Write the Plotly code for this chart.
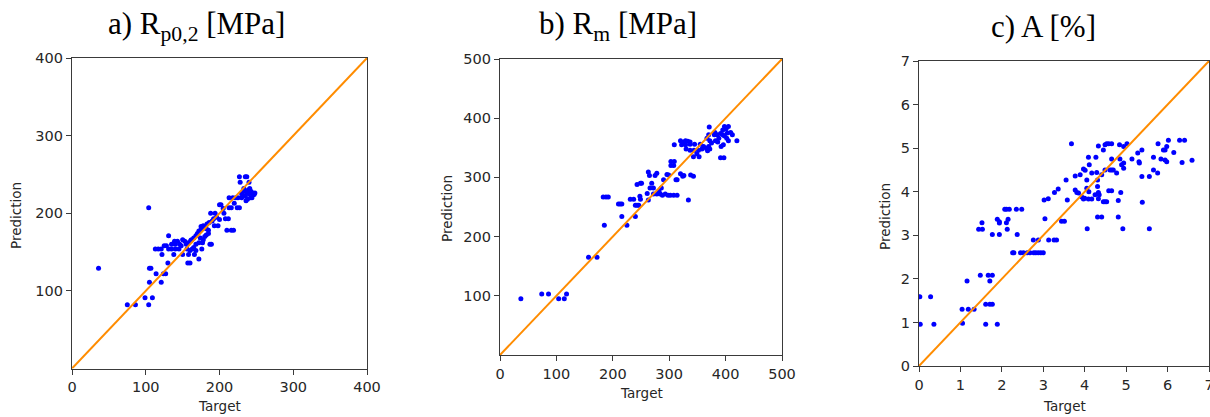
import plotly.graph_objects as go

# ---------------- data ----------------
# Panel a) Rp0,2 [MPa]
a_target = [36, 104, 75, 86, 104, 99, 109, 105, 121, 105, 107, 114, 124, 127,
            130, 157, 160, 122, 138, 150, 158, 166, 172,
            113, 117, 121, 125, 128, 131, 135, 140, 145, 156, 160, 163, 168, 176,
            131, 135, 140, 143, 146, 150, 153, 139, 148, 155, 158,
            162, 165, 168, 170, 172, 175, 168, 172, 177, 180, 182, 185, 178, 174, 165, 161,
            180, 183, 186, 190, 192, 196, 189, 187, 193, 198, 200, 185, 182, 178, 175,
            188, 194, 200, 202, 205, 208, 212, 206, 210, 216, 219, 213, 216, 224, 227, 220, 213, 218, 222, 225,
            227, 235, 237, 228, 240,
            230, 233, 235, 237, 239, 241, 243, 245, 247, 238, 242, 236, 244, 230, 233, 240, 248]
a_pred = [129, 207, 82, 82, 82, 91, 91, 111, 111, 129, 129, 122, 122, 122,
          136, 136, 136, 147, 147, 147, 147, 147, 141,
          154, 154, 154, 158, 158, 154, 154, 154, 154, 154, 152, 154, 152, 154,
          171, 160, 160, 164, 160, 166, 164, 164, 158, 160, 162,
          166, 168, 171, 174, 177, 179, 160, 162, 162, 170, 172, 174, 166, 168, 156, 165,
          182, 186, 188, 190, 193, 195, 160, 160, 184, 184, 192, 178, 180, 184, 183,
          200, 200, 211, 211, 206, 193, 193, 200, 178, 178, 178, 207, 207, 207, 207, 213, 220, 220, 220, 220,
          247, 247, 247, 240, 240,
          225, 228, 222, 226, 230, 232, 228, 225, 224, 218, 220, 216, 220, 220, 232, 225, 226]

# Panel b) Rm [MPa]
b_target = [37, 74, 86, 104, 114, 118,
            157, 172, 185, 183, 192, 188,
            210, 216, 213, 216, 225, 240,
            231, 237, 240, 243, 246, 243, 249, 251,
            248, 249, 263, 265, 278, 275, 269, 266, 272, 261, 263,
            272, 278, 284, 288, 293, 298, 302, 308, 314, 282, 286, 290, 296, 299,
            303, 308, 303, 309, 309, 312, 314, 320, 324, 326, 334, 338, 343,
            320, 326, 329, 333, 337, 322, 329, 337, 345, 355,
            330, 337, 344, 352, 343, 353, 349, 358, 361, 366, 370,
            367, 372, 375, 370, 368, 372, 380, 382,
            371, 381, 385, 391, 395, 398, 405, 401, 395, 392, 396, 402, 409, 412, 405,
            391, 397, 420, 388, 398, 403, 386]
b_pred = [95, 103, 103, 95, 95, 103,
          165, 165, 219, 267, 267, 267,
          255, 255, 255, 234, 219, 234,
          263, 263, 253, 253, 253, 288, 290, 290,
          268, 263, 309, 303, 307, 303, 290, 282, 282, 273, 262,
          272, 272, 272, 270, 272, 270, 270, 270, 270, 276, 282, 296, 305, 304,
          320, 320, 327, 327, 355, 296, 296, 306, 302, 303, 262, 304, 302,
          362, 360, 362, 361, 360, 355, 355, 356, 356, 356,
          348, 346, 346, 346, 335, 335, 340, 348, 352, 349, 352,
          366, 362, 358, 372, 345, 348, 372, 362,
          385, 376, 372, 374, 380, 386, 386, 382, 372, 352, 355, 366, 376, 372, 362,
          333, 333, 362, 366, 370, 375, 360]

# Panel c) A [%]
c_target = [0.02, 0.03, 0.28, 0.36, 1.04, 1.19, 1.33, 1.05, 1.16, 1.48, 1.67, 1.77, 1.71,
            1.61, 1.71, 1.77, 1.61, 1.89, 1.44, 1.53, 1.52, 1.77, 1.89, 1.94, 1.94, 1.94,
            2.11, 2.15, 2.13, 2.37, 2.07, 2.11, 2.18, 2.35, 2.48,
            2.26, 2.29, 2.45, 2.52, 2.61, 2.68, 2.76, 2.88, 2.77, 2.82, 2.88, 2.94, 3.00,
            3.02, 3.12, 3.04, 3.13, 3.26, 3.32, 3.27, 3.36, 3.44, 3.51, 3.55, 3.58, 3.68,
            3.77, 3.89, 3.77, 3.81, 3.85, 3.97, 4.01, 4.05, 4.05, 4.09, 4.11, 4.17,
            3.97, 4.09, 4.17, 4.06, 4.25, 4.27, 4.29, 4.31, 4.31, 4.33, 4.35, 4.33, 4.33,
            4.31, 4.41, 4.41, 4.45, 4.45, 4.49, 4.53, 4.49, 4.53, 4.49, 4.58, 4.61, 4.65,
            4.58, 4.65, 4.65, 4.65, 4.69, 4.77, 4.81, 4.81, 4.84, 4.85, 4.87, 4.89, 4.94,
            4.94, 4.94, 4.92, 5.02, 5.14, 5.28, 5.31, 5.32, 5.38, 5.38, 5.39, 5.56, 5.56,
            5.66, 5.66, 5.76, 5.77, 5.84, 5.90, 5.94, 5.94, 5.98, 5.98, 6.02, 6.15, 6.29,
            6.41, 6.35, 6.59, 4.00, 4.10, 3.93]
c_pred = [1.59, 0.96, 1.59, 0.96, 1.30, 1.30, 1.30, 0.98, 1.95, 2.08, 2.08, 2.08, 1.95,
          1.42, 1.42, 1.42, 0.96, 0.96, 3.14, 3.14, 3.29, 3.02, 3.37, 3.31, 3.28, 3.02,
          3.29, 3.37, 3.14, 3.02, 3.60, 3.60, 3.60, 3.60, 3.60,
          2.60, 2.60, 2.60, 2.60, 2.60, 2.60, 2.89, 2.89, 2.60, 2.60, 2.60, 2.60, 2.60,
          3.81, 3.84, 3.38, 2.89, 2.89, 2.89, 3.98, 4.06, 3.32, 3.32, 4.27, 3.81, 5.10,
          4.36, 4.39, 4.04, 3.98, 3.97, 4.52, 4.49, 4.27, 4.08, 4.79, 4.62, 4.43,
          3.83, 3.83, 3.83, 3.15, 3.93, 4.79, 4.44, 4.27, 4.12, 3.98, 3.93, 3.84, 5.05,
          3.42, 3.42, 4.39, 4.96, 3.77, 3.77, 3.77, 5.08, 5.10, 4.50, 5.10, 4.50, 4.50,
          4.02, 4.02, 5.10, 4.75, 4.50, 4.43, 3.42, 3.80, 5.08, 4.75, 3.98, 4.62, 4.66,
          4.54, 5.04, 3.15, 5.10, 4.75, 4.89, 4.69, 4.66, 4.96, 4.35, 3.76, 3.15, 4.35,
          4.50, 4.79, 4.43, 5.10, 4.75, 4.96, 4.96, 4.73, 4.69, 5.04, 5.18, 4.90, 5.18,
          5.18, 4.67, 4.72, 3.85, 4.00, 3.88]

panel_titles = ["a) R<sub>p0,2</sub> [MPa]", "b) R<sub>m</sub> [MPa]", "c) A [%]"]
limits = [400, 500, 7]
x_ticks = [[0, 100, 200, 300, 400], [0, 100, 200, 300, 400, 500], [0, 1, 2, 3, 4, 5, 6, 7]]
y_ticks = [[100, 200, 300, 400], [100, 200, 300, 400, 500], [0, 1, 2, 3, 4, 5, 6, 7]]
x_label = "Target"
y_label = "Prediction"

# ---------------- layout geometry (pixels) ----------------
W, H = 1210, 417
boxes = [  # left, right, top, bottom in px
    (72, 367, 58, 368.5),
    (500, 782, 59, 355),
    (919, 1209, 61, 366),
]
title_pos = [(196, 26), (618, 26), (1043, 26)]
ylab_pos = [(16, 216), (447, 209), (885, 217)]
xlab_pos = [(219.5, 406), (641, 393), (1064.5, 406)]

BLUE = "#0000ff"
ORANGE = "#ff8c00"
AX = "#3a3a3a"
TXT = "#262626"

datasets = [(a_target, a_pred), (b_target, b_pred), (c_target, c_pred)]

fig = go.Figure()
annotations = []
for i, ((xs, ys), lim, box) in enumerate(zip(datasets, limits, boxes)):
    n = "" if i == 0 else str(i + 1)
    xa, ya = "x" + n, "y" + n
    fig.add_trace(go.Scatter(x=xs, y=ys, mode="markers", xaxis=xa, yaxis=ya,
                             marker=dict(color=BLUE, size=5, line=dict(width=0)),
                             showlegend=False, hoverinfo="x+y"))
    diag = [0, lim]
    fig.add_trace(go.Scatter(x=diag, y=diag, mode="lines", xaxis=xa, yaxis=ya,
                             line=dict(color=ORANGE, width=2),
                             showlegend=False, hoverinfo="skip"))
    l, r, t, b = box
    common = dict(showgrid=False, zeroline=False, showline=True, mirror=True,
                  automargin=False, ticklabeloverflow="allow",
                  linecolor=AX, linewidth=1.2, ticks="outside", ticklen=5,
                  tickwidth=1.2, tickcolor=AX,
                  tickfont=dict(family="DejaVu Sans", size=14.5, color=TXT))
    fig.update_layout(**{
        "xaxis" + n: dict(domain=[l / W, r / W], range=[0, lim], anchor=ya,
                          tickvals=x_ticks[i], **common),
        "yaxis" + n: dict(domain=[1 - b / H, 1 - t / H], range=[0, lim], anchor=xa,
                          tickvals=y_ticks[i], **common),
    })
    tx, ty = title_pos[i]
    annotations.append(dict(text=panel_titles[i], x=tx / W, y=1 - ty / H,
                            xref="paper", yref="paper", showarrow=False,
                            xanchor="center", yanchor="middle",
                            font=dict(family="Liberation Serif", size=31, color="#000")))
    lx, ly = xlab_pos[i]
    annotations.append(dict(text=x_label, x=lx / W, y=1 - ly / H,
                            xref="paper", yref="paper", showarrow=False,
                            xanchor="center", yanchor="middle",
                            font=dict(family="DejaVu Sans", size=13.5, color=TXT)))
    px, py = ylab_pos[i]
    annotations.append(dict(text=y_label, x=px / W, y=1 - py / H, textangle=-90,
                            xref="paper", yref="paper", showarrow=False,
                            xanchor="center", yanchor="middle",
                            font=dict(family="DejaVu Sans", size=13.5, color=TXT)))

fig.update_layout(width=W, height=H, margin=dict(l=0, r=0, t=0, b=0, autoexpand=False),
                  paper_bgcolor="white", plot_bgcolor="white",
                  annotations=annotations)

fig.write_html("out.html", config={"displayModeBar": False},
               post_script="document.body.style.margin='0';")
